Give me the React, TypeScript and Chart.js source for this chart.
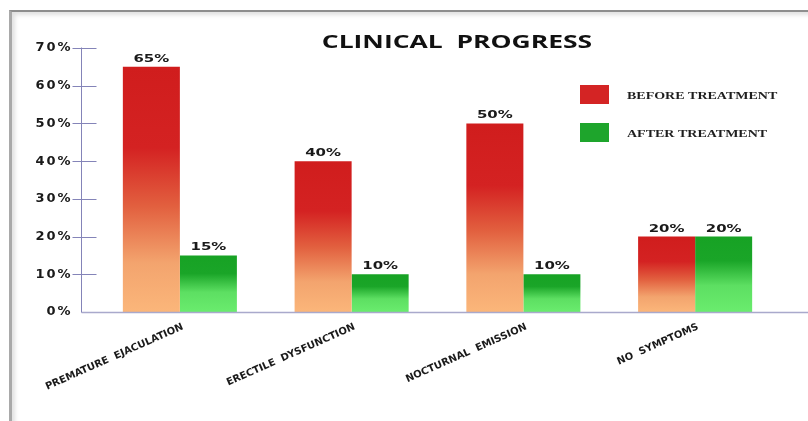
import React, { useEffect, useRef } from 'react';
import { Chart, registerables } from 'chart.js';

Chart.register(...registerables);

// Chart content
const chartTitle = 'CLINICAL  PROGRESS';
const categories = ['PREMATURE  EJACULATION', 'ERECTILE  DYSFUNCTION', 'NOCTURNAL  EMISSION', 'NO  SYMPTOMS'];
const seriesNames = ['BEFORE TREATMENT', 'AFTER TREATMENT'];
const beforeTreatment = [65, 40, 50, 20];
const afterTreatment = [15, 10, 10, 20];
const yMin = 0;
const yMax = 70;
const yStep = 10;

// Styling
const swatchColors = ['#d42424', '#1ea52c'];
const redStops: [number, string][] = [
  [0, '#d01d1d'],
  [0.33, '#d42222'],
  [0.57, '#e2603f'],
  [0.8, '#f3a46e'],
  [1, '#fbb67a'],
];
const greenStops: [number, string][] = [
  [0, '#17a224'],
  [0.32, '#1aa528'],
  [0.65, '#5ddf62'],
  [1, '#6aec6e'],
];
const textColor = '#1a1a1a';

// Vertical gradient spanning each bar from its top down to the baseline
function barGradient(stops: [number, string][]) {
  return (c: any) => {
    const chart = c.chart;
    if (!chart.chartArea || c.type !== 'data') return stops[0][1];
    const y = chart.scales.y;
    const top = y.getPixelForValue(c.raw as number);
    const bottom = y.getPixelForValue(0);
    const g = chart.ctx.createLinearGradient(0, top, 0, bottom);
    stops.forEach(([o, col]) => g.addColorStop(o, col));
    return g;
  };
}

function wideText(ctx: CanvasRenderingContext2D, text: string, x: number, y: number, sx: number) {
  ctx.save();
  ctx.translate(x, y);
  ctx.scale(sx, 1);
  ctx.fillText(text, 0, 0);
  ctx.restore();
}

const decor = {
  id: 'decor',
  beforeDraw(chart: any) {
    // spacing for the y tick labels (drawn before the bars)
    chart.ctx.letterSpacing = '2px';
  },
  afterDatasetsDraw(chart: any) {
    const { ctx, chartArea, scales } = chart;
    const y = scales.y;
    ctx.save();
    ctx.letterSpacing = '0px';
    const axisX = Math.round(chartArea.left - 13) + 0.5;
    const zeroY = Math.round(y.getPixelForValue(0)) + 0.5;

    // horizontal axis line
    ctx.strokeStyle = '#a9a9cc';
    ctx.lineWidth = 1.5;
    ctx.beginPath();
    ctx.moveTo(axisX, zeroY);
    ctx.lineTo(chart.width, zeroY);
    ctx.stroke();

    // vertical axis line with ticks crossing it
    ctx.strokeStyle = '#8484b8';
    ctx.lineWidth = 1;
    ctx.beginPath();
    ctx.moveTo(axisX, Math.round(y.getPixelForValue(y.max)) - 0.5);
    ctx.lineTo(axisX, zeroY);
    y.ticks.forEach((t: any) => {
      if (t.value === 0) return;
      const py = Math.round(y.getPixelForValue(t.value)) + 0.5;
      ctx.moveTo(axisX - 9, py);
      ctx.lineTo(axisX + 15, py);
    });
    ctx.stroke();

    // value labels above bars
    ctx.fillStyle = textColor;
    ctx.font = 'bold 11px "DejaVu Sans"';
    ctx.textAlign = 'center';
    ctx.textBaseline = 'alphabetic';
    chart.data.datasets.forEach((ds: any, i: number) => {
      chart.getDatasetMeta(i).data.forEach((bar: any, j: number) => {
        wideText(ctx, ds.data[j] + '%', bar.x, bar.y - 5, 1.36);
      });
    });
    ctx.restore();
    // category labels (drawn after the bars) use plain spacing
    ctx.letterSpacing = '0px';
  },
  afterDraw(chart: any) {
    const ctx = chart.ctx;
    ctx.save();
    ctx.letterSpacing = '0px';
    // title
    ctx.fillStyle = '#111111';
    ctx.font = 'bold 18px "Open Sans"';
    ctx.textAlign = 'center';
    ctx.textBaseline = 'alphabetic';
    wideText(ctx, chartTitle, 457, 48, 1.47);

    // legend
    ctx.textAlign = 'left';
    ctx.font = 'bold 10px "Liberation Serif"';
    chart.data.datasets.forEach((ds: any, i: number) => {
      const top = 85 + i * 38;
      ctx.fillStyle = swatchColors[i];
      ctx.fillRect(580, top, 29, 19);
      ctx.fillStyle = '#1e1e1e';
      wideText(ctx, ds.label, 627, top + 13.5, 1.4);
    });
    ctx.restore();
    ctx.letterSpacing = '0px';
  },
};

export default function App() {
  const ref = useRef<HTMLCanvasElement>(null);

  useEffect(() => {
    const chart = new Chart(ref.current as HTMLCanvasElement, {
      type: 'bar',
      data: {
        labels: categories,
        datasets: [
          { label: seriesNames[0], data: beforeTreatment, backgroundColor: barGradient(redStops) as any },
          { label: seriesNames[1], data: afterTreatment, backgroundColor: barGradient(greenStops) as any },
        ],
      },
      options: {
        responsive: false,
        animation: false,
        devicePixelRatio: 1,
        layout: { padding: { top: 48, right: 27, bottom: 0, left: 0 } },
        datasets: { bar: { categoryPercentage: 0.664, barPercentage: 1 } },
        plugins: {
          legend: { display: false },
          title: { display: false },
          tooltip: { enabled: false },
        },
        scales: {
          x: {
            grid: { display: false, drawTicks: false },
            border: { display: false },
            ticks: {
              z: 1,
              autoSkip: false,
              minRotation: 24,
              maxRotation: 24,
              padding: 9,
              labelOffset: 3,
              color: textColor,
              font: { family: 'DejaVu Sans', weight: 'bold', size: 10 },
            },
            afterFit: (s: any) => {
              s.height = 109;
            },
          },
          y: {
            min: yMin,
            max: yMax,
            grid: { display: false, drawTicks: false },
            border: { display: false },
            ticks: {
              stepSize: yStep,
              padding: 21.5,
              color: textColor,
              font: { family: 'DejaVu Sans', weight: 'bold', size: 13 },
              callback: (v: any) => v + '%',
            },
            afterFit: (s: any) => {
              s.width = 94;
            },
          },
        },
      },
      plugins: [decor],
    });
    return () => chart.destroy();
  }, []);

  return (
    <div style={{ position: 'fixed', left: 0, top: 0, width: 808, height: 421, background: '#ffffff', overflow: 'hidden' }}>
      <div
        style={{
          position: 'absolute',
          left: 9,
          top: 10,
          right: -10,
          bottom: -10,
          borderTop: '2px solid #8e8e8e',
          borderLeft: '3px solid #a9a9a9',
          boxShadow: 'inset 3px 3px 4px rgba(0,0,0,0.12)',
        }}
      />
      <canvas ref={ref} width={808} height={421} style={{ position: 'absolute', left: 0, top: 0, width: 808, height: 421 }} />
    </div>
  );
}
